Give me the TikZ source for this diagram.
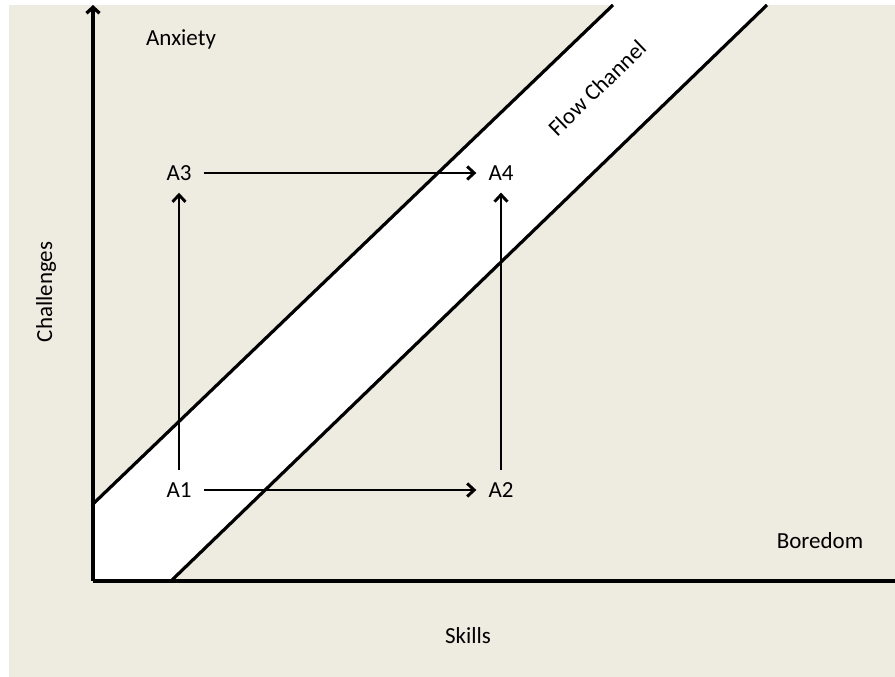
\documentclass[tikz,border=0pt]{standalone}
\usepackage{fontspec}
\setmainfont{Carlito}
\usetikzlibrary{arrows.meta}
\definecolor{bgbeige}{HTML}{EEEBE1}
\tikzset{
  lbl/.style={inner sep=0pt, font=\fontsize{23}{27}\selectfont},
  pt/.style={inner sep=0pt, font=\fontsize{23}{27}\selectfont},
  conn/.style={line width=2.9pt, -{Straight Barb[length=7pt,width=13pt,line width=2.9pt]}, shorten <=12pt, shorten >=12pt},
  axis/.style={line width=3.3pt},
  chan/.style={line width=3.2pt}
}
\begin{document}
\begin{tikzpicture}[x=1pt,y=1pt]
\useasboundingbox (0,0) rectangle (895,677);
\fill[white] (0,0) rectangle (895,677);
\fill[bgbeige] (9,0) rectangle (895,672);
% flow channel
\fill[white] (93,96) -- (93,173) -- (613,672) -- (767,672) -- (171,96) -- cycle;
\coordinate (u1) at (93,173);
\coordinate (u2) at (613,672);
\coordinate (l1) at (171,96);
\coordinate (l2) at (767,672);
\draw[chan] (u1) -- (u2);
\draw[chan] (l1) -- (l2);
% axes
\coordinate (o) at (93,96);
\coordinate (ytop) at (93,672);
\coordinate (xend) at (895,96);
\draw[axis, -{Straight Barb[length=6pt,width=13pt,line width=3.3pt]}] (o) -- (ytop);
\draw[axis] (o) -- (xend);
% labels
\node[lbl] (anx) at (181,638) {Anxiety};
\node[lbl] (bor) at (820,136) {Boredom};
\node[lbl] (sk) at (468,41) {Skills};
\node[lbl, rotate=90] (ch) at (46,385) {Challenges};
\node[lbl, rotate=44] (fc) at (597,589) {Flow Channel};
% points
\node[pt] (A1) at (179,187) {A1};
\node[pt] (A2) at (501,187) {A2};
\node[pt] (A3) at (179,504) {A3};
\node[pt] (A4) at (501,504) {A4};
\draw[conn] (A1) -- (A2);
\draw[conn] (A3) -- (A4);
\draw[conn] (A1) -- (A3);
\draw[conn] (A2) -- (A4);
\end{tikzpicture}
\end{document}
